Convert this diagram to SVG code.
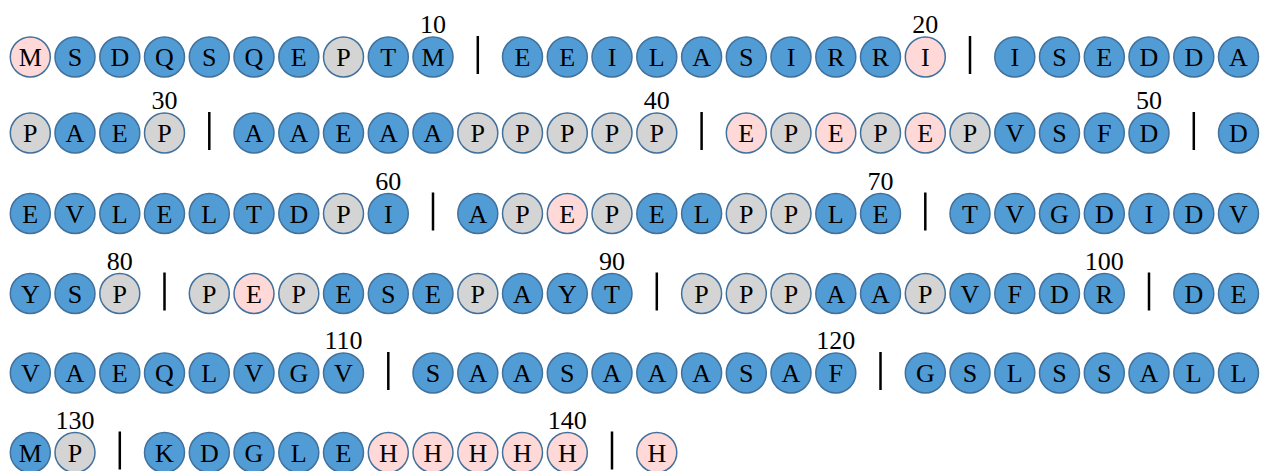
<svg xmlns="http://www.w3.org/2000/svg" width="1262" height="471" viewBox="0 0 1262 471">
<style>
circle{stroke:#41719C;stroke-width:1.5}
.b circle{fill:#529CD5}
.p circle{fill:#FFD8D8}
.g circle{fill:#D4D4D4}
text{font-family:"Liberation Serif","Tinos","Times New Roman","DejaVu Serif","Noto Serif",Times,serif;font-size:26px;fill:#000;text-anchor:middle}
#separators line{stroke:#000;stroke-width:2.5}
</style>
<rect width="1262" height="471" fill="#fff"/>
<g id="separators">
<line x1="477.8" y1="36" x2="477.8" y2="74"/>
<line x1="970" y1="36" x2="970" y2="74"/>
<line x1="209.3" y1="112" x2="209.3" y2="150"/>
<line x1="701.6" y1="112" x2="701.6" y2="150"/>
<line x1="1193.8" y1="112" x2="1193.8" y2="150"/>
<line x1="433" y1="192.5" x2="433" y2="230.5"/>
<line x1="925.3" y1="192.5" x2="925.3" y2="230.5"/>
<line x1="164.5" y1="272.5" x2="164.5" y2="310.5"/>
<line x1="656.8" y1="272.5" x2="656.8" y2="310.5"/>
<line x1="1149" y1="272.5" x2="1149" y2="310.5"/>
<line x1="388.3" y1="352" x2="388.3" y2="390"/>
<line x1="880.5" y1="352" x2="880.5" y2="390"/>
<line x1="119.8" y1="431.5" x2="119.8" y2="469.5"/>
<line x1="612" y1="431.5" x2="612" y2="469.5"/>
</g>
<!-- Row 1 -->
<g id="r1" class="p" transform="translate(30.3,57)"><circle r="20"/><text y="9">M</text></g>
<g id="r2" class="b" transform="translate(75,57)"><circle r="20"/><text y="9">S</text></g>
<g id="r3" class="b" transform="translate(119.8,57)"><circle r="20"/><text y="9">D</text></g>
<g id="r4" class="b" transform="translate(164.5,57)"><circle r="20"/><text y="9">Q</text></g>
<g id="r5" class="b" transform="translate(209.3,57)"><circle r="20"/><text y="9">S</text></g>
<g id="r6" class="b" transform="translate(254,57)"><circle r="20"/><text y="9">Q</text></g>
<g id="r7" class="b" transform="translate(298.8,57)"><circle r="20"/><text y="9">E</text></g>
<g id="r8" class="g" transform="translate(343.5,57)"><circle r="20"/><text y="9">P</text></g>
<g id="r9" class="b" transform="translate(388.3,57)"><circle r="20"/><text y="9">T</text></g>
<g id="r10" class="b" transform="translate(433,57)"><circle r="20"/><text y="9">M</text><text y="-24">10</text></g>
<g id="r11" class="b" transform="translate(522.5,57)"><circle r="20"/><text y="9">E</text></g>
<g id="r12" class="b" transform="translate(567.3,57)"><circle r="20"/><text y="9">E</text></g>
<g id="r13" class="b" transform="translate(612,57)"><circle r="20"/><text y="9">I</text></g>
<g id="r14" class="b" transform="translate(656.8,57)"><circle r="20"/><text y="9">L</text></g>
<g id="r15" class="b" transform="translate(701.6,57)"><circle r="20"/><text y="9">A</text></g>
<g id="r16" class="b" transform="translate(746.3,57)"><circle r="20"/><text y="9">S</text></g>
<g id="r17" class="b" transform="translate(791,57)"><circle r="20"/><text y="9">I</text></g>
<g id="r18" class="b" transform="translate(835.8,57)"><circle r="20"/><text y="9">R</text></g>
<g id="r19" class="b" transform="translate(880.5,57)"><circle r="20"/><text y="9">R</text></g>
<g id="r20" class="p" transform="translate(925.3,57)"><circle r="20"/><text y="9">I</text><text y="-24">20</text></g>
<g id="r21" class="b" transform="translate(1014.8,57)"><circle r="20"/><text y="9">I</text></g>
<g id="r22" class="b" transform="translate(1059.5,57)"><circle r="20"/><text y="9">S</text></g>
<g id="r23" class="b" transform="translate(1104.3,57)"><circle r="20"/><text y="9">E</text></g>
<g id="r24" class="b" transform="translate(1149,57)"><circle r="20"/><text y="9">D</text></g>
<g id="r25" class="b" transform="translate(1193.8,57)"><circle r="20"/><text y="9">D</text></g>
<g id="r26" class="b" transform="translate(1238.5,57)"><circle r="20"/><text y="9">A</text></g>
<!-- Row 2 -->
<g id="r27" class="g" transform="translate(30.3,133)"><circle r="20"/><text y="9">P</text></g>
<g id="r28" class="b" transform="translate(75,133)"><circle r="20"/><text y="9">A</text></g>
<g id="r29" class="b" transform="translate(119.8,133)"><circle r="20"/><text y="9">E</text></g>
<g id="r30" class="g" transform="translate(164.5,133)"><circle r="20"/><text y="9">P</text><text y="-24">30</text></g>
<g id="r31" class="b" transform="translate(254,133)"><circle r="20"/><text y="9">A</text></g>
<g id="r32" class="b" transform="translate(298.8,133)"><circle r="20"/><text y="9">A</text></g>
<g id="r33" class="b" transform="translate(343.5,133)"><circle r="20"/><text y="9">E</text></g>
<g id="r34" class="b" transform="translate(388.3,133)"><circle r="20"/><text y="9">A</text></g>
<g id="r35" class="b" transform="translate(433,133)"><circle r="20"/><text y="9">A</text></g>
<g id="r36" class="g" transform="translate(477.8,133)"><circle r="20"/><text y="9">P</text></g>
<g id="r37" class="g" transform="translate(522.5,133)"><circle r="20"/><text y="9">P</text></g>
<g id="r38" class="g" transform="translate(567.3,133)"><circle r="20"/><text y="9">P</text></g>
<g id="r39" class="g" transform="translate(612,133)"><circle r="20"/><text y="9">P</text></g>
<g id="r40" class="g" transform="translate(656.8,133)"><circle r="20"/><text y="9">P</text><text y="-24">40</text></g>
<g id="r41" class="p" transform="translate(746.3,133)"><circle r="20"/><text y="9">E</text></g>
<g id="r42" class="g" transform="translate(791,133)"><circle r="20"/><text y="9">P</text></g>
<g id="r43" class="p" transform="translate(835.8,133)"><circle r="20"/><text y="9">E</text></g>
<g id="r44" class="g" transform="translate(880.5,133)"><circle r="20"/><text y="9">P</text></g>
<g id="r45" class="p" transform="translate(925.3,133)"><circle r="20"/><text y="9">E</text></g>
<g id="r46" class="g" transform="translate(970,133)"><circle r="20"/><text y="9">P</text></g>
<g id="r47" class="b" transform="translate(1014.8,133)"><circle r="20"/><text y="9">V</text></g>
<g id="r48" class="b" transform="translate(1059.5,133)"><circle r="20"/><text y="9">S</text></g>
<g id="r49" class="b" transform="translate(1104.3,133)"><circle r="20"/><text y="9">F</text></g>
<g id="r50" class="b" transform="translate(1149,133)"><circle r="20"/><text y="9">D</text><text y="-24">50</text></g>
<g id="r51" class="b" transform="translate(1238.5,133)"><circle r="20"/><text y="9">D</text></g>
<!-- Row 3 -->
<g id="r52" class="b" transform="translate(30.3,213.5)"><circle r="20"/><text y="9">E</text></g>
<g id="r53" class="b" transform="translate(75,213.5)"><circle r="20"/><text y="9">V</text></g>
<g id="r54" class="b" transform="translate(119.8,213.5)"><circle r="20"/><text y="9">L</text></g>
<g id="r55" class="b" transform="translate(164.5,213.5)"><circle r="20"/><text y="9">E</text></g>
<g id="r56" class="b" transform="translate(209.3,213.5)"><circle r="20"/><text y="9">L</text></g>
<g id="r57" class="b" transform="translate(254,213.5)"><circle r="20"/><text y="9">T</text></g>
<g id="r58" class="b" transform="translate(298.8,213.5)"><circle r="20"/><text y="9">D</text></g>
<g id="r59" class="g" transform="translate(343.5,213.5)"><circle r="20"/><text y="9">P</text></g>
<g id="r60" class="b" transform="translate(388.3,213.5)"><circle r="20"/><text y="9">I</text><text y="-24">60</text></g>
<g id="r61" class="b" transform="translate(477.8,213.5)"><circle r="20"/><text y="9">A</text></g>
<g id="r62" class="g" transform="translate(522.5,213.5)"><circle r="20"/><text y="9">P</text></g>
<g id="r63" class="p" transform="translate(567.3,213.5)"><circle r="20"/><text y="9">E</text></g>
<g id="r64" class="g" transform="translate(612,213.5)"><circle r="20"/><text y="9">P</text></g>
<g id="r65" class="b" transform="translate(656.8,213.5)"><circle r="20"/><text y="9">E</text></g>
<g id="r66" class="b" transform="translate(701.6,213.5)"><circle r="20"/><text y="9">L</text></g>
<g id="r67" class="g" transform="translate(746.3,213.5)"><circle r="20"/><text y="9">P</text></g>
<g id="r68" class="g" transform="translate(791,213.5)"><circle r="20"/><text y="9">P</text></g>
<g id="r69" class="b" transform="translate(835.8,213.5)"><circle r="20"/><text y="9">L</text></g>
<g id="r70" class="b" transform="translate(880.5,213.5)"><circle r="20"/><text y="9">E</text><text y="-24">70</text></g>
<g id="r71" class="b" transform="translate(970,213.5)"><circle r="20"/><text y="9">T</text></g>
<g id="r72" class="b" transform="translate(1014.8,213.5)"><circle r="20"/><text y="9">V</text></g>
<g id="r73" class="b" transform="translate(1059.5,213.5)"><circle r="20"/><text y="9">G</text></g>
<g id="r74" class="b" transform="translate(1104.3,213.5)"><circle r="20"/><text y="9">D</text></g>
<g id="r75" class="b" transform="translate(1149,213.5)"><circle r="20"/><text y="9">I</text></g>
<g id="r76" class="b" transform="translate(1193.8,213.5)"><circle r="20"/><text y="9">D</text></g>
<g id="r77" class="b" transform="translate(1238.5,213.5)"><circle r="20"/><text y="9">V</text></g>
<!-- Row 4 -->
<g id="r78" class="b" transform="translate(30.3,293.5)"><circle r="20"/><text y="9">Y</text></g>
<g id="r79" class="b" transform="translate(75,293.5)"><circle r="20"/><text y="9">S</text></g>
<g id="r80" class="g" transform="translate(119.8,293.5)"><circle r="20"/><text y="9">P</text><text y="-24">80</text></g>
<g id="r81" class="g" transform="translate(209.3,293.5)"><circle r="20"/><text y="9">P</text></g>
<g id="r82" class="p" transform="translate(254,293.5)"><circle r="20"/><text y="9">E</text></g>
<g id="r83" class="g" transform="translate(298.8,293.5)"><circle r="20"/><text y="9">P</text></g>
<g id="r84" class="b" transform="translate(343.5,293.5)"><circle r="20"/><text y="9">E</text></g>
<g id="r85" class="b" transform="translate(388.3,293.5)"><circle r="20"/><text y="9">S</text></g>
<g id="r86" class="b" transform="translate(433,293.5)"><circle r="20"/><text y="9">E</text></g>
<g id="r87" class="g" transform="translate(477.8,293.5)"><circle r="20"/><text y="9">P</text></g>
<g id="r88" class="b" transform="translate(522.5,293.5)"><circle r="20"/><text y="9">A</text></g>
<g id="r89" class="b" transform="translate(567.3,293.5)"><circle r="20"/><text y="9">Y</text></g>
<g id="r90" class="b" transform="translate(612,293.5)"><circle r="20"/><text y="9">T</text><text y="-24">90</text></g>
<g id="r91" class="g" transform="translate(701.6,293.5)"><circle r="20"/><text y="9">P</text></g>
<g id="r92" class="g" transform="translate(746.3,293.5)"><circle r="20"/><text y="9">P</text></g>
<g id="r93" class="g" transform="translate(791,293.5)"><circle r="20"/><text y="9">P</text></g>
<g id="r94" class="b" transform="translate(835.8,293.5)"><circle r="20"/><text y="9">A</text></g>
<g id="r95" class="b" transform="translate(880.5,293.5)"><circle r="20"/><text y="9">A</text></g>
<g id="r96" class="g" transform="translate(925.3,293.5)"><circle r="20"/><text y="9">P</text></g>
<g id="r97" class="b" transform="translate(970,293.5)"><circle r="20"/><text y="9">V</text></g>
<g id="r98" class="b" transform="translate(1014.8,293.5)"><circle r="20"/><text y="9">F</text></g>
<g id="r99" class="b" transform="translate(1059.5,293.5)"><circle r="20"/><text y="9">D</text></g>
<g id="r100" class="b" transform="translate(1104.3,293.5)"><circle r="20"/><text y="9">R</text><text y="-24">100</text></g>
<g id="r101" class="b" transform="translate(1193.8,293.5)"><circle r="20"/><text y="9">D</text></g>
<g id="r102" class="b" transform="translate(1238.5,293.5)"><circle r="20"/><text y="9">E</text></g>
<!-- Row 5 -->
<g id="r103" class="b" transform="translate(30.3,373)"><circle r="20"/><text y="9">V</text></g>
<g id="r104" class="b" transform="translate(75,373)"><circle r="20"/><text y="9">A</text></g>
<g id="r105" class="b" transform="translate(119.8,373)"><circle r="20"/><text y="9">E</text></g>
<g id="r106" class="b" transform="translate(164.5,373)"><circle r="20"/><text y="9">Q</text></g>
<g id="r107" class="b" transform="translate(209.3,373)"><circle r="20"/><text y="9">L</text></g>
<g id="r108" class="b" transform="translate(254,373)"><circle r="20"/><text y="9">V</text></g>
<g id="r109" class="b" transform="translate(298.8,373)"><circle r="20"/><text y="9">G</text></g>
<g id="r110" class="b" transform="translate(343.5,373)"><circle r="20"/><text y="9">V</text><text y="-24">110</text></g>
<g id="r111" class="b" transform="translate(433,373)"><circle r="20"/><text y="9">S</text></g>
<g id="r112" class="b" transform="translate(477.8,373)"><circle r="20"/><text y="9">A</text></g>
<g id="r113" class="b" transform="translate(522.5,373)"><circle r="20"/><text y="9">A</text></g>
<g id="r114" class="b" transform="translate(567.3,373)"><circle r="20"/><text y="9">S</text></g>
<g id="r115" class="b" transform="translate(612,373)"><circle r="20"/><text y="9">A</text></g>
<g id="r116" class="b" transform="translate(656.8,373)"><circle r="20"/><text y="9">A</text></g>
<g id="r117" class="b" transform="translate(701.6,373)"><circle r="20"/><text y="9">A</text></g>
<g id="r118" class="b" transform="translate(746.3,373)"><circle r="20"/><text y="9">S</text></g>
<g id="r119" class="b" transform="translate(791,373)"><circle r="20"/><text y="9">A</text></g>
<g id="r120" class="b" transform="translate(835.8,373)"><circle r="20"/><text y="9">F</text><text y="-24">120</text></g>
<g id="r121" class="b" transform="translate(925.3,373)"><circle r="20"/><text y="9">G</text></g>
<g id="r122" class="b" transform="translate(970,373)"><circle r="20"/><text y="9">S</text></g>
<g id="r123" class="b" transform="translate(1014.8,373)"><circle r="20"/><text y="9">L</text></g>
<g id="r124" class="b" transform="translate(1059.5,373)"><circle r="20"/><text y="9">S</text></g>
<g id="r125" class="b" transform="translate(1104.3,373)"><circle r="20"/><text y="9">S</text></g>
<g id="r126" class="b" transform="translate(1149,373)"><circle r="20"/><text y="9">A</text></g>
<g id="r127" class="b" transform="translate(1193.8,373)"><circle r="20"/><text y="9">L</text></g>
<g id="r128" class="b" transform="translate(1238.5,373)"><circle r="20"/><text y="9">L</text></g>
<!-- Row 6 -->
<g id="r129" class="b" transform="translate(30.3,452.5)"><circle r="20"/><text y="9">M</text></g>
<g id="r130" class="g" transform="translate(75,452.5)"><circle r="20"/><text y="9">P</text><text y="-24">130</text></g>
<g id="r131" class="b" transform="translate(164.5,452.5)"><circle r="20"/><text y="9">K</text></g>
<g id="r132" class="b" transform="translate(209.3,452.5)"><circle r="20"/><text y="9">D</text></g>
<g id="r133" class="b" transform="translate(254,452.5)"><circle r="20"/><text y="9">G</text></g>
<g id="r134" class="b" transform="translate(298.8,452.5)"><circle r="20"/><text y="9">L</text></g>
<g id="r135" class="b" transform="translate(343.5,452.5)"><circle r="20"/><text y="9">E</text></g>
<g id="r136" class="p" transform="translate(388.3,452.5)"><circle r="20"/><text y="9">H</text></g>
<g id="r137" class="p" transform="translate(433,452.5)"><circle r="20"/><text y="9">H</text></g>
<g id="r138" class="p" transform="translate(477.8,452.5)"><circle r="20"/><text y="9">H</text></g>
<g id="r139" class="p" transform="translate(522.5,452.5)"><circle r="20"/><text y="9">H</text></g>
<g id="r140" class="p" transform="translate(567.3,452.5)"><circle r="20"/><text y="9">H</text><text y="-24">140</text></g>
<g id="r141" class="p" transform="translate(656.8,452.5)"><circle r="20"/><text y="9">H</text></g>
</svg>
